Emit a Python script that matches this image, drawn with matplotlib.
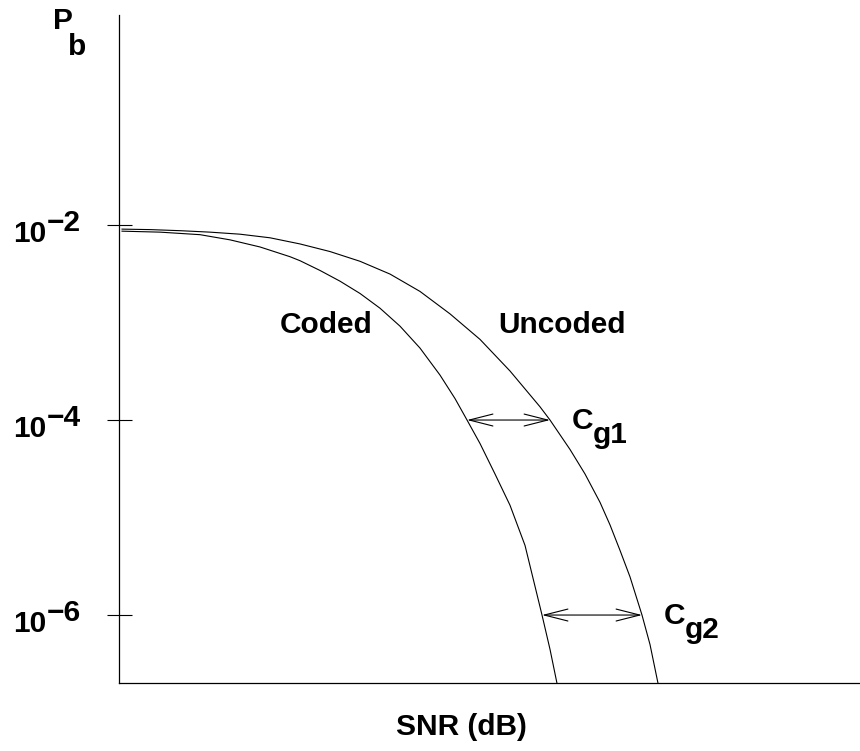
import numpy as np
import matplotlib
matplotlib.use('Agg')
import matplotlib.pyplot as plt
from matplotlib.ticker import NullLocator

# values (SNR in dB, log10 of Pb)
snr_uncoded = [0.061, 0.628, 1.235, 1.842, 2.449, 3.057, 3.664, 4.271, 4.879, 5.486, 6.093, 6.700, 7.308,
               7.915, 8.522, 8.725, 9.130, 9.433, 9.737, 9.939, 10.142, 10.344, 10.587, 10.749, 10.911]
logpb_uncoded = [-2.042, -2.047, -2.058, -2.073, -2.094, -2.131, -2.194, -2.272, -2.372, -2.503, -2.681,
                 -2.911, -3.173, -3.497, -3.864, -4.0, -4.302, -4.553, -4.844, -5.075, -5.337, -5.608,
                 -6.0, -6.302, -6.7]
snr_coded = [0.061, 0.830, 1.640, 2.247, 2.854, 3.462, 3.664, 4.069, 4.474, 4.879, 5.283, 5.688,
             6.093, 6.498, 6.802, 7.045, 7.308, 7.611, 7.915, 8.219, 8.563, 8.725, 8.866]
logpb_coded = [-2.063, -2.073, -2.099, -2.152, -2.225, -2.325, -2.366, -2.466, -2.576, -2.702, -2.853,
               -3.037, -3.262, -3.539, -3.780, -4.0, -4.241, -4.553, -4.874, -5.286, -6.0, -6.352, -6.7]
tick_exps = [-2, -4, -6]
gain_exps = [-4, -6]
gain_names = ['g1', 'g2']

plt.rcParams['font.family'] = ['Liberation Sans', 'DejaVu Sans']
FS = 21.5

fig = plt.figure(figsize=(8.6, 7.51), dpi=100)
ax = fig.add_axes([119 / 860, 68 / 751, 741 / 860, 668 / 751])

pb_unc = 10.0 ** np.array(logpb_uncoded)
pb_cod = 10.0 ** np.array(logpb_coded)
ax.semilogy(snr_uncoded, pb_unc, color='black', lw=0.8)
ax.semilogy(snr_coded, pb_cod, color='black', lw=0.8)

ax.set_xlim(0, 15)
ax.set_ylim(10 ** -6.697, 10 ** 0.154)

for s in ['top', 'right']:
    ax.spines[s].set_visible(False)
for s in ['left', 'bottom']:
    ax.spines[s].set_linewidth(0.9)

ax.set_xticks([])
ax.set_yticks([10.0 ** e for e in tick_exps])
ax.yaxis.set_minor_locator(NullLocator())
ax.tick_params(axis='y', direction='inout', length=18, width=0.8, labelleft=False)

# tick labels 10^-n as plain text pieces
for e in tick_exps:
    ax.annotate('10', xy=(0, 10.0 ** e), xycoords=('axes fraction', 'data'),
                xytext=(-106, -17), textcoords='offset pixels',
                ha='left', va='baseline', fontsize=FS, fontweight='bold')
    ax.annotate('\u2212' + str(-e), xy=(0, 10.0 ** e), xycoords=('axes fraction', 'data'),
                xytext=(-72, -6), textcoords='offset pixels',
                ha='left', va='baseline', fontsize=FS, fontweight='bold')

# coding gain arrows
rev_u = (np.array(logpb_uncoded)[::-1], np.array(snr_uncoded)[::-1])
rev_c = (np.array(logpb_coded)[::-1], np.array(snr_coded)[::-1])
for e, name in zip(gain_exps, gain_names):
    xu = np.interp(e, *rev_u)
    xc = np.interp(e, *rev_c)
    ax.annotate('', xy=(xc, 10.0 ** e), xytext=(xu, 10.0 ** e),
                arrowprops=dict(arrowstyle='<->,head_length=1.7,head_width=0.43',
                                lw=0.8, color='black', shrinkA=0, shrinkB=0))
    ax.annotate('C', xy=(xu, 10.0 ** e), xytext=(22, -9), textcoords='offset pixels',
                ha='left', va='baseline', fontsize=FS, fontweight='bold')
    ax.annotate(name, xy=(xu, 10.0 ** e), xytext=(43, -23), textcoords='offset pixels',
                ha='left', va='baseline', fontsize=FS, fontweight='bold')

ax.text(3.26, 10 ** -3.108, 'Coded', ha='left', va='baseline', fontsize=FS, fontweight='bold')
ax.text(7.67, 10 ** -3.108, 'Uncoded', ha='left', va='baseline', fontsize=FS, fontweight='bold')

fig.text(53 / 860, 1 - 29 / 751, 'P', ha='left', va='baseline', fontsize=FS, fontweight='bold')
fig.text(68 / 860, 1 - 55 / 751, 'b', ha='left', va='baseline', fontsize=FS, fontweight='bold')
fig.text(461 / 860, 1 - 735 / 751, 'SNR (dB)', ha='center', va='baseline', fontsize=FS, fontweight='bold')

fig.savefig('out.png', dpi=100)
